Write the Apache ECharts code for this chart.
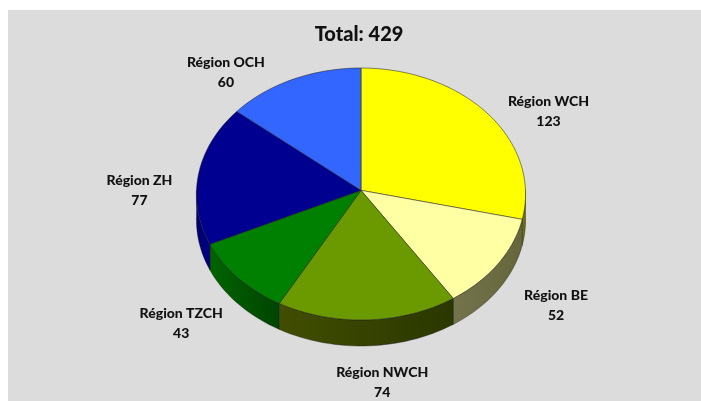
<!DOCTYPE html>
<html>
<head>
<meta charset="utf-8">
<style type="text/css">
html, body { margin: 0; padding: 0; background: #fff; }
#chart { width: 701px; height: 401px; }
</style>
<script src="https://cdn.jsdelivr.net/npm/echarts@6/dist/echarts.min.js"></script>
</head>
<body>
<div id="chart"></div>
<script>
var regions = ['Région WCH', 'Région BE', 'Région NWCH', 'Région TZCH', 'Région ZH', 'Région OCH'];
var counts = [123, 52, 74, 43, 77, 60];

// couleurs du dessus et du flanc (gauche -> droite) de chaque part
var topColors = ['#ffff00', '#ffffa3', '#6a9900', '#008000', '#000090', '#3366ff'];
var sideColors = [
    ['#77770a', '#66660a'],
    ['#74744c', '#66663c'],
    ['#414e00', '#2a3700'],
    ['#006400', '#004400'],
    ['#00006a', '#000088'],
    ['#1a3380', '#1a3380']
];
// décalage des étiquettes depuis le bord de la part, en pixels
var labelNudge = [[61, -2], [58, 42], [15, 63], [-57, 46], [-59, 16], [-67, -7]];

var PERSPECTIVE = 0.03;   // l'avant du disque paraît plus grand que l'arrière
var DEPTH = 0.2126;       // épaisseur du disque, en unités de l'axe y
var STEP = 2;             // pas des arcs en degrés

var total = 0;
for (var i = 0; i < counts.length; i++) {
    total += counts[i];
}

var sliceData = [];
var running = 0;
for (var j = 0; j < counts.length; j++) {
    sliceData.push([running / total * 360, (running + counts[j]) / total * 360, j]);
    running += counts[j];
}

function rimPoint(api, deg, drop) {
    var rad = deg * Math.PI / 180;
    var s = Math.sin(rad);
    var c = Math.cos(rad);
    var x = s * (1 - PERSPECTIVE * c);
    var y = c * (1 + PERSPECTIVE - PERSPECTIVE * c);
    return api.coord([x, y - drop]);
}

function arcPoints(api, from, to, drop) {
    var pts = [];
    for (var a = from; a < to; a += STEP) {
        pts.push(rimPoint(api, a, drop));
    }
    pts.push(rimPoint(api, to, drop));
    return pts;
}

function renderSlice(params, api) {
    var start = api.value(0);
    var end = api.value(1);
    var idx = api.value(2);
    var children = [];

    // flanc : seulement la partie avant du disque
    var sideFrom = Math.max(start, 90);
    var sideTo = Math.min(end, 270);
    if (sideFrom < sideTo) {
        var upper = arcPoints(api, sideFrom, sideTo, 0);
        var lower = arcPoints(api, sideFrom, sideTo, DEPTH).reverse();
        children.push({
            type: 'polygon',
            z2: 1,
            shape: { points: upper.concat(lower) },
            style: {
                fill: new echarts.graphic.LinearGradient(0, 0, 1, 0, [
                    { offset: 0, color: sideColors[idx][0] },
                    { offset: 1, color: sideColors[idx][1] }
                ]),
                stroke: 'rgba(20,20,20,0.6)',
                lineWidth: 0.6
            }
        });
    }

    // dessus
    var centre = api.coord([0, 0]);
    children.push({
        type: 'polygon',
        z2: 2,
        shape: { points: [centre].concat(arcPoints(api, start, end, 0)) },
        style: {
            fill: topColors[idx],
            stroke: 'rgba(30,30,30,0.75)',
            lineWidth: 0.7
        }
    });

    // étiquette
    var anchor = rimPoint(api, (start + end) / 2, 0);
    children.push({
        type: 'text',
        z2: 3,
        style: {
            text: regions[idx] + '\n' + counts[idx],
            x: anchor[0] + labelNudge[idx][0],
            y: anchor[1] + labelNudge[idx][1],
            align: 'center',
            verticalAlign: 'middle',
            font: '900 14px Lato',
            lineHeight: 20,
            fill: '#111'
        }
    });

    return { type: 'group', children: children };
}

var chart = echarts.init(document.getElementById('chart'));
chart.setOption({
    animation: false,
    title: {
        text: 'Total: ' + total,
        left: 354,
        top: 20,
        textAlign: 'center',
        textStyle: { fontFamily: 'Lato', fontWeight: 900, fontSize: 20, color: '#111' }
    },
    graphic: [{
        type: 'rect',
        z: -10,
        shape: { x: 8, y: 10, width: 693, height: 391 },
        style: { fill: '#dcdcdc' }
    }],
    grid: { left: 196.5, top: 68, width: 329, height: 252 },
    xAxis: { type: 'value', min: -1, max: 1, show: false },
    yAxis: { type: 'value', min: -1 - 2 * PERSPECTIVE, max: 1, show: false },
    series: [{
        type: 'custom',
        clip: false,
        silent: true,
        renderItem: renderSlice,
        data: sliceData
    }]
});
</script>
</body>
</html>
